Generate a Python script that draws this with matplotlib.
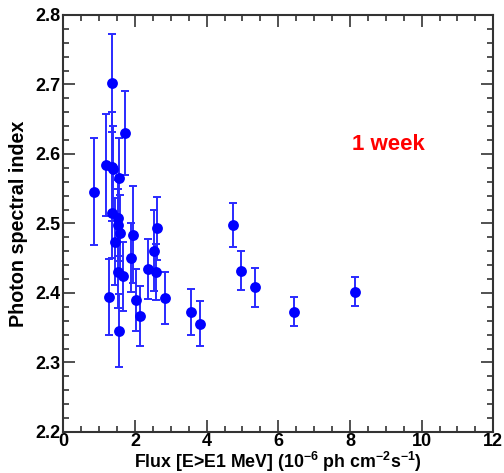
import matplotlib
matplotlib.use("Agg")
import matplotlib.pyplot as plt

plt.rcParams['font.family'] = ['Liberation Sans', 'DejaVu Sans']
plt.rcParams['font.weight'] = 'bold'
plt.rcParams['mathtext.fontset'] = 'custom'
plt.rcParams['mathtext.rm'] = 'Liberation Sans:bold'
plt.rcParams['mathtext.bf'] = 'Liberation Sans:bold'
plt.rcParams['mathtext.default'] = 'bf'

flux = [0.87, 1.19, 1.35, 1.40, 1.37, 1.72, 1.55, 1.37, 1.54, 1.54, 1.58, 1.44,
        1.94, 1.88, 1.53, 1.66, 1.27, 1.56, 2.03, 2.14, 2.61, 2.54, 2.36, 2.58,
        2.85, 3.56, 3.82, 4.73, 4.96, 5.36, 6.45, 8.14]
index = [2.546, 2.584, 2.582, 2.578, 2.702, 2.630, 2.565, 2.515, 2.508, 2.498, 2.486, 2.474,
         2.484, 2.451, 2.430, 2.424, 2.394, 2.346, 2.390, 2.367, 2.493, 2.461, 2.434, 2.430,
         2.393, 2.373, 2.356, 2.498, 2.432, 2.408, 2.373, 2.402]
index_err = [0.077, 0.073, 0.078, 0.062, 0.071, 0.060, 0.058, 0.065, 0.055, 0.052, 0.055, 0.062,
             0.070, 0.050, 0.052, 0.050, 0.055, 0.052, 0.045, 0.043, 0.045, 0.058, 0.043, 0.040,
             0.037, 0.033, 0.032, 0.032, 0.028, 0.028, 0.021, 0.021]
flux_err = [0, 0, 0, 0, 0, 0, 0, 0, 0, 0, 0, 0,
            0, 0, 0, 0, 0, 0, 0, 0, 0, 0, 0, 0,
            0, 0, 0, 0, 0, 0, 0, 0.12]

xticks = [0, 2, 4, 6, 8, 10, 12]
xticklabels = ['0', '2', '4', '6', '8', '10', '12']
yticks = [2.2, 2.3, 2.4, 2.5, 2.6, 2.7, 2.8]
yticklabels = ['2.2', '2.3', '2.4', '2.5', '2.6', '2.7', '2.8']

fig = plt.figure(figsize=(5.04, 4.73), dpi=100)
ax = fig.add_axes([0.1256, 0.0867, 0.8532, 0.8816])

ax.errorbar(flux, index, yerr=index_err, fmt='none',
            ecolor='#2a2aff', elinewidth=1.4, capsize=3.2, capthick=1.4)
ax.errorbar(flux, index, xerr=flux_err, fmt='none',
            ecolor='#2a2aff', elinewidth=1.4, capsize=0)
ax.plot(flux, index, 'o', color='#0000ff', markersize=7.8, markeredgewidth=0)

ax.set_xlim(0, 12)
ax.set_ylim(2.2, 2.8)
ax.set_xticks(xticks)
ax.set_xticklabels(xticklabels, fontweight='bold')
ax.set_xticks([x * 0.5 for x in range(25)], minor=True)
ax.set_yticks(yticks)
ax.set_yticklabels(yticklabels, fontweight='bold')
ax.set_yticks([2.2 + 0.02 * i for i in range(31)], minor=True)
ax.tick_params(which='both', direction='in', top=True, right=True, color='#333333',
               width=1.2, labelsize=13, pad=2)
ax.tick_params(axis='x', which='both', pad=1)
ax.tick_params(which='major', length=8.6)
ax.tick_params(which='minor', length=4.3)
for s in ax.spines.values():
    s.set_linewidth(1.5)
    s.set_color('#333333')

ax.set_xlabel(r'Flux [E>E1 MeV] (10$^{-6}$ ph cm$^{-2}$s$^{-1}$)', fontsize=12.8,
              fontweight='bold', labelpad=-0.5)
ax.set_ylabel('Photon spectral index', fontsize=14.2, fontweight='bold', labelpad=5)

ax.text(9.06, 2.614, '1 week', color='#ff0000', fontsize=16, fontweight='bold',
        ha='center', va='center')

fig.savefig('out.png', dpi=100)
